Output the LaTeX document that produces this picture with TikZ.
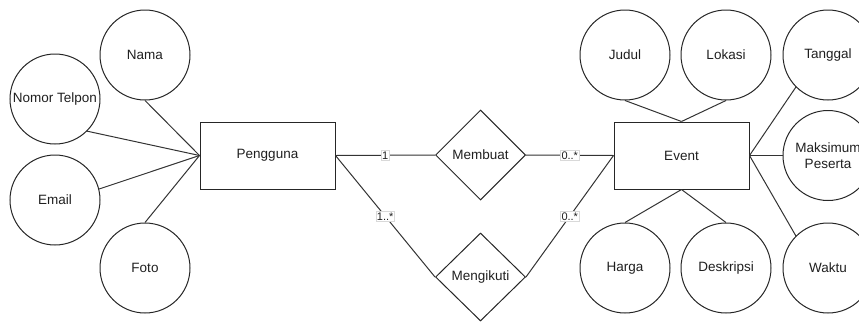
\documentclass[tikz,border=0pt]{standalone}
\usepackage{fontspec}
\setmainfont{Liberation Sans}
\usetikzlibrary{shapes.geometric}
\begin{document}
\begin{tikzpicture}[x=1pt,y=-1pt,
  every node/.style={text=black!88, font=\fontsize{13.5}{16}\selectfont},
  attr/.style={circle, draw=black!85, line width=1pt, minimum size=90pt, inner sep=0pt, align=center},
  ent/.style={rectangle, draw=black!85, line width=1pt, minimum width=135pt, minimum height=67pt, inner sep=0pt},
  rel/.style={diamond, draw=black!85, line width=1pt, minimum width=90pt, minimum height=90pt, inner sep=0pt},
  conn/.style={draw=black!80, line width=1pt},
  card/.style={fill=white, draw=black!15, line width=0.5pt, inner sep=1pt, font=\fontsize{11}{12}\selectfont}
]
\useasboundingbox (0,0) rectangle (859,322);
\clip (0,0) rectangle (859,322);
% entities
\node[ent] (pengguna) at (267.5,155.5) {Pengguna};
\node[ent] (event) at (681.5,155.5) {Event};
% relationships
\node[rel] (membuat) at (480.5,155) {Membuat};
\node[rel, minimum height=88pt] (mengikuti) at (480.5,277) {Mengikuti};
% Pengguna attributes
\node[attr] (nama) at (145,55) {Nama};
\node[attr] (nomor) at (55,99) {Nomor Telpon};
\node[attr] (email) at (55,200) {Email};
\node[attr] (foto) at (145,268) {Foto};
% Event attributes
\node[attr] (judul) at (625,55) {Judul};
\node[attr] (lokasi) at (726,55) {Lokasi};
\node[attr] (tanggal) at (828,55) {Tanggal};
\node[attr] (maks) at (828,155.5) {Maksimum\\Peserta};
\node[attr] (waktu) at (828,268) {Waktu};
\node[attr] (harga) at (625,268) {Harga};
\node[attr] (deskripsi) at (726,268) {Deskripsi};
% attribute connectors
\draw[conn] (nama.south) -- (pengguna.west);
\draw[conn] (nomor.-45) -- (pengguna.west);
\draw[conn] (email.14) -- (pengguna.west);
\draw[conn] (foto.north) -- (pengguna.west);
\draw[conn] (judul.south) -- (event.north);
\draw[conn] (lokasi.south) -- (event.north);
\draw[conn] (tanggal.-135) -- (event.east);
\draw[conn] (maks.west) -- (event.east);
\draw[conn] (waktu.135) -- (event.east);
\draw[conn] (harga.north) -- (event.south);
\draw[conn] (deskripsi.north) -- (event.south);
% relationship connectors
\draw[conn] (pengguna.east) -- node[card] {1} (membuat.west);
\draw[conn] (membuat.east) -- node[card] {0..*} (event.west);
\draw[conn] (pengguna.east) -- node[card] {1..*} (mengikuti.west);
\draw[conn] (event.west) -- node[card] {0..*} (mengikuti.east);
\end{tikzpicture}
\end{document}
